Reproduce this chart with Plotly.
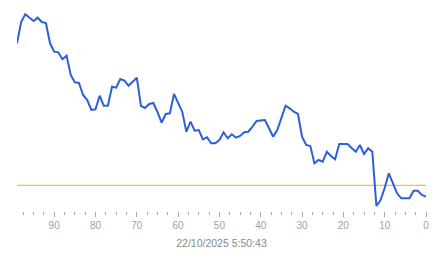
import plotly.graph_objects as go

# x index (seconds ago), 99 .. 0
x_idx = list(range(99, -1, -1))
# series values (arbitrary units)
y_px = [43.3, 22, 14.3, 18, 21, 17.7, 22, 23, 43.3, 51.7,
        52.3, 59.3, 55.7, 75, 82.3, 83, 95, 100, 110, 109.3,
        95.7, 105.7, 105.7, 86.7, 87.7, 79, 80.7, 85.7, 81.7, 77.7,
        106, 108, 104, 103, 112, 122.7, 114, 113.3, 94, 102.7,
        111.7, 131.7, 121.7, 130.7, 130, 139.3, 137.3, 143.3, 143.3, 140,
        132.3, 138.3, 134.3, 137.7, 136, 132.3, 131.7, 126.7, 121, 120.5,
        120, 128.3, 136.7, 130, 118.3, 105.7, 108.3, 111.7, 114, 136.7,
        145, 146, 163.3, 160, 161.7, 151.7, 156, 159.3, 144, 144,
        144, 148, 151.7, 145, 154, 148.3, 151.7, 206, 200, 188,
        173.3, 183.3, 193.3, 198.3, 198.3, 198.3, 190.7, 190.7, 195, 196.7]
values = [211 - v for v in y_px]
ref_level = 211 - 185.3
title_text = "22/10/2025 5:50:43"

fig = go.Figure()
fig.add_trace(go.Scatter(x=[x_idx[0], x_idx[-1]], y=[ref_level, ref_level], mode="lines",
                         line=dict(color="#f0c430", width=1.3), hoverinfo="skip"))
fig.add_trace(go.Scatter(x=x_idx, y=values, mode="lines",
                         line=dict(color="#2d5fd8", width=2), hoverinfo="skip"))

fig.update_layout(
    width=443, height=258,
    margin=dict(l=17, r=17, t=0, b=47),
    paper_bgcolor="white", plot_bgcolor="white",
    showlegend=False,
    font=dict(family="Liberation Sans, Arial", size=10, color="#999999"),
    xaxis=dict(range=[99, 0], showgrid=False, zeroline=False, showline=False,
               tickmode="linear", tick0=0, dtick=10,
               ticks="outside", ticklen=5, tickwidth=1, tickcolor="#aaaaaa",
               tickfont=dict(size=10, color="#a0a0a0"),
               minor=dict(ticks="outside", ticklen=2.5, dtick=2.5, tick0=0, tickcolor="#aaaaaa", showgrid=False),
               title=dict(text=title_text, font=dict(size=10.5, color="#888888"), standoff=9)),
    yaxis=dict(range=[0, 211], visible=False, showgrid=False, zeroline=False),
)

fig.write_html("out.html")
